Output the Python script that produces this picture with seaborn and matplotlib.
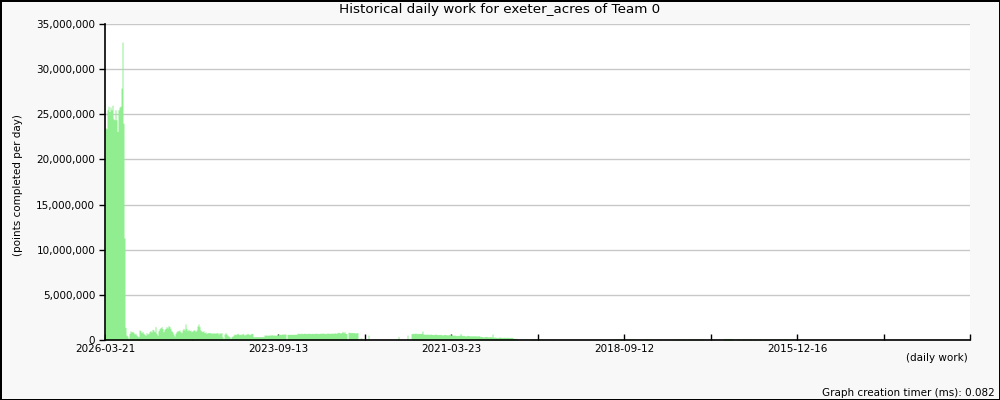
import numpy as np
import pandas as pd
import matplotlib
matplotlib.use("Agg")
import matplotlib.pyplot as plt
from matplotlib.ticker import FuncFormatter
import seaborn as sns

# daily work in millions of points, one value per bin (newest first)
peak = [23.5, 23.4, 25.5, 25.9, 25.3, 25.8, 25.5, 26.0, 24.5, 24.4,
        25.5, 24.4, 23.1, 25.5, 25.8, 25.9, 27.9, 33.0, 24.0, 11.3,
        1.4]

recent = [0.55, 0.44, 0.20, 0.74, 1.00, 0.89, 0.96, 0.85, 0.66, 0.74,
          0.55, 0.44, 0.37, 1.11, 1.03, 0.81, 0.96, 0.74, 0.63, 0.52,
          0.81, 0.66, 0.74, 0.92, 1.03, 0.89, 1.18, 1.11, 0.92, 1.48,
          0.74, 0.55, 1.03, 1.25, 1.37, 1.48, 1.29, 0.92, 1.18, 1.29,
          1.48, 1.33, 1.59, 1.48, 1.29, 1.03, 0.89, 0.66, 0.44, 0.74,
          0.92, 1.03, 1.00, 1.11, 0.92, 0.81, 1.11, 1.29, 1.11, 1.77,
          1.29, 1.03, 1.18, 1.03, 1.11, 0.92, 1.03, 1.11, 1.11, 0.96,
          1.11, 1.55, 1.77, 1.48, 1.11, 1.00, 0.92, 1.03, 0.81, 0.89,
          0.74, 0.81, 0.81, 0.81, 0.81, 0.74, 0.81, 0.74, 0.81, 0.74,
          0.81, 0.81, 0.66, 0.81, 0.74, 0.81, 0.37, 0.18, 0.66, 0.81,
          0.66, 0.55, 0.44, 0.37, 0.18, 0.37, 0.44, 0.55, 0.66, 0.59,
          0.66, 0.74, 0.66, 0.59, 0.66, 0.59, 0.74, 0.66, 0.55, 0.66,
          0.63, 0.74, 0.66, 0.59, 0.66]

older = [0.74, 0.70, 0.37, 0.37, 0.37, 0.37, 0.37, 0.37, 0.37, 0.37,
         0.37, 0.37, 0.37, 0.55, 0.55, 0.55, 0.52, 0.55, 0.55, 0.55,
         0.59, 0.55, 0.55, 0.55, 0.52, 0.55, 0.63, 0.55, 0.63, 0.63,
         0.63, 0.66, 0.66, 0.66, 0.66, 0.00, 0.63, 0.63, 0.63, 0.63,
         0.63, 0.63, 0.63, 0.63, 0.63, 0.63, 0.74, 0.74, 0.70, 0.74,
         0.74, 0.70, 0.74, 0.74, 0.74, 0.70, 0.74, 0.74, 0.74, 0.70,
         0.74, 0.74, 0.70, 0.74, 0.74, 0.74, 0.74, 0.70, 0.74, 0.74,
         0.74, 0.77, 0.74, 0.74, 0.70, 0.74, 0.77, 0.74, 0.74, 0.74,
         0.77, 0.74, 0.74, 0.81, 0.74, 0.77, 0.81, 0.85, 0.81, 0.77,
         0.81, 0.96, 0.81, 0.92, 0.74, 0.70, 0.00, 0.85, 0.85, 0.81,
         0.85, 0.81, 0.81, 0.81, 0.77, 0.81, 0.81, 0.00, 0.00, 0.22,
         0.22, 0.00]

gap = [0.0] * 5 + [0.55] + [0.0] * 29 + [0.37] + [0.0] * 8 + [0.55] + [0.0] * 3

mid = [0.70, 0.74, 0.70, 0.74, 0.77, 0.70, 0.74, 0.70, 0.74, 0.70,
       0.74, 1.00,
       0.66, 0.63, 0.66, 0.62, 0.66, 0.63, 0.62, 0.66, 0.63, 0.62,
       0.59, 0.62, 0.66, 0.62, 0.59, 0.62, 0.59, 0.62, 0.59, 0.55,
       0.59, 0.62, 0.59, 0.59, 0.55, 0.59, 0.62, 0.55, 0.59,
       0.55, 0.52, 0.55, 0.52, 0.48, 0.52, 0.48, 0.52, 0.70, 0.55,
       0.48, 0.52, 0.48, 0.44, 0.48, 0.52, 0.48, 0.48, 0.44, 0.48,
       0.44, 0.48, 0.44, 0.48, 0.44, 0.44, 0.48, 0.44,
       0.37, 0.40, 0.37, 0.33, 0.37, 0.40, 0.37, 0.37, 0.33, 0.37,
       0.37, 0.33, 0.66,
       0.30, 0.33, 0.30, 0.30, 0.26, 0.30, 0.33, 0.30, 0.30, 0.26,
       0.30, 0.30, 0.26, 0.30, 0.30, 0.26, 0.30, 0.26, 0.30, 0.26,
       0.18, 0.18, 0.18, 0.18, 0.08]

tail = ([0.0] * 12 + [0.10, 0.12, 0.08, 0.10, 0.12, 0.10] + [0.0] * 6 + [0.08]
        + [0.0] * 9 + [0.10] + [0.0] * 47 + [0.08] + [0.0] * 14
        + [0.10, 0.0, 0.12, 0.10, 0.0, 0.10, 0.12, 0.10] + [0.0] * 5
        + [0.12, 0.10, 0.12, 0.0, 0.10, 0.08] + [0.0] * 9
        + [0.10, 0.0, 0.12, 0.10, 0.0, 0.10] + [0.0] * 9 + [0.10] + [0.0] * 14
        + [0.10, 0.0, 0.12, 0.10, 0.0, 0.10, 0.12, 0.0, 0.10, 0.12, 0.0, 0.10, 0.12]
        + [0.0] * 2
        + [0.12, 0.10, 0.0, 0.12, 0.10, 0.0, 0.12, 0.10, 0.12, 0.0, 0.10, 0.12, 0.10, 0.0, 0.12]
        + [0.0] * 20
        + [0.15, 0.18, 0.15, 0.15, 0.18, 0.15, 0.15, 0.18, 0.15, 0.15] + [0.0] * 4
        + [0.12, 0.10, 0.0, 0.12, 0.0, 0.10, 0.12, 0.10, 0.0, 0.12,
           0.10, 0.0, 0.12, 0.10, 0.12, 0.0, 0.10, 0.12, 0.10]
        + [0.0]
        + [0.10, 0.0, 0.10, 0.12, 0.0, 0.10, 0.0, 0.10, 0.12, 0.10,
           0.0, 0.10, 0.0, 0.12, 0.10, 0.0, 0.10, 0.12, 0.0, 0.10,
           0.0, 0.10, 0.12, 0.0, 0.10, 0.0, 0.10, 0.12, 0.0, 0.10, 0.08]
        + [0.0] * 182)

date_labels = ["2026-03-21", "", "2023-09-13", "", "2021-03-23", "",
               "2018-09-12", "", "2015-12-16", "", ""]

values = np.array(peak + recent + older + gap + mid + tail) * 1e6
n_bins = len(values)
df = pd.DataFrame({"bin": np.arange(n_bins) + 0.5, "points": values})

sns.set_theme(style="white")
plt.rcParams["font.family"] = ["DejaVu Sans"]
plt.rcParams["text.color"] = "black"
plt.rcParams["xtick.color"] = "black"
plt.rcParams["ytick.color"] = "black"
plt.rcParams["axes.labelcolor"] = "black"

fig = plt.figure(figsize=(10, 4), dpi=100, facecolor="#f8f8f8")
fig.patch.set_edgecolor("black")
fig.patch.set_linewidth(2)
ax = fig.add_axes([0.105, 0.15, 0.865, 0.79])
ax.set_facecolor("white")

sns.histplot(data=df, x="bin", weights="points", bins=n_bins, binrange=(0, n_bins),
             element="step", fill=True, color="#90ee90", alpha=1, linewidth=0, ax=ax)

ax.set_xlim(0, n_bins)
ax.set_ylim(0, 35e6)
ax.set_yticks(np.arange(0, 35e6 + 1, 5e6))
ax.yaxis.set_major_formatter(FuncFormatter(lambda v, p: f"{int(v):,}"))
ax.set_xticks(np.linspace(0, n_bins, len(date_labels)))
ax.set_xticklabels(date_labels)
ax.set_xlabel("")
ax.set_ylabel("")

ax.set_axisbelow(True)
ax.yaxis.grid(True, color="#c8c8c8", linewidth=1)
ax.xaxis.grid(False)
for side in ["top", "right"]:
    ax.spines[side].set_visible(False)
for side in ["left", "bottom"]:
    ax.spines[side].set_color("black")
    ax.spines[side].set_linewidth(1.2)

ax.tick_params(axis="y", direction="out", length=4, width=1, colors="black",
               labelsize=7.5, pad=3, left=True)
ax.tick_params(axis="x", direction="in", length=4, width=1, colors="black",
               labelsize=7.5, pad=3, bottom=True)

fig.text(0.5, 1 - 10 / 400, "Historical daily work for exeter_acres of Team 0",
         ha="center", va="center", fontsize=9.7, color="black")
fig.text(0.018, 1 - 185 / 400, "(points completed per day)", rotation=90,
         ha="center", va="center", fontsize=7.5, color="black")
fig.text(0.968, 1 - 358 / 400, "(daily work)", ha="right", va="center",
         fontsize=7.5, color="black")
fig.text(0.995, 1 - 393 / 400, "Graph creation timer (ms): 0.082",
         ha="right", va="center", fontsize=7.5, color="black")

fig.savefig("out.png", dpi=100, facecolor=fig.get_facecolor(), edgecolor="black")
